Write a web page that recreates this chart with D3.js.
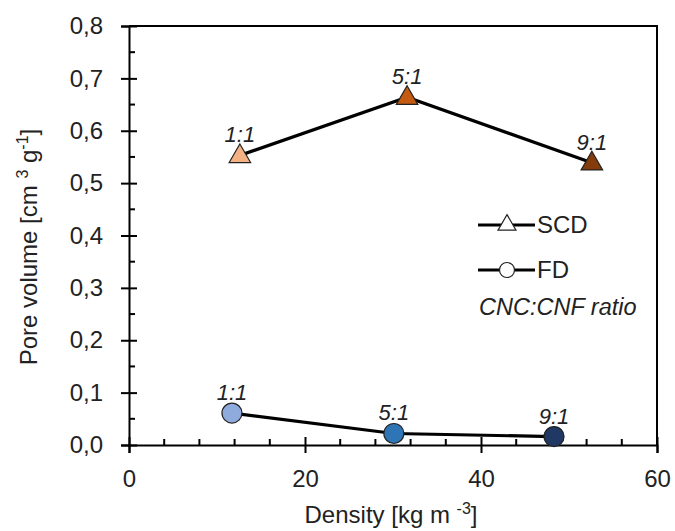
<!DOCTYPE html>
<html>
<head>
<meta charset="utf-8">
<script src="https://cdn.jsdelivr.net/npm/d3@7"></script>
<style>
  body { margin: 0; background: #fff; }
  svg text { font-family: "Liberation Sans", Arial, sans-serif; fill: #222; }
</style>
</head>
<body>
<div id="chart"></div>
<script>
// Data
const ratios = ["1:1", "5:1", "9:1"];
const scdDensity = [12.6, 31.6, 52.6];
const scdPore = [0.553, 0.664, 0.539];
const fdDensity = [11.7, 30.1, 48.3];
const fdPore = [0.061, 0.022, 0.016];
const scdColors = ["#f4b183", "#c55a11", "#843c0c"];
const fdColors = ["#8faadc", "#2e75b6", "#203864"];
const xTicks = [0, 20, 40, 60];
const yTicks = [0, 0.1, 0.2, 0.3, 0.4, 0.5, 0.6, 0.7, 0.8];

drawChart();

function drawChart() {
    const W = 675, H = 531;
    const margin = { top: 26, right: 18, bottom: 86, left: 129 };
    const width = W - margin.left - margin.right;
    const height = H - margin.top - margin.bottom;

    const svg = d3.select("#chart").append("svg")
        .attr("width", W).attr("height", H);
    const g = svg.append("g")
        .attr("transform", `translate(${margin.left},${margin.top})`);

    const x = d3.scaleLinear().domain([0, 60]).range([0, width]);
    const y = d3.scaleLinear().domain([0, 0.8]).range([height, 0]);

    // frame (top and right)
    g.append("path")
        .attr("d", `M0,0H${width}V${height}`)
        .attr("fill", "none").attr("stroke", "#000").attr("stroke-width", 2);

    // minor ticks, pointing inside
    const xMinor = d3.range(0, 61, 4).filter(v => v % 20 !== 0);
    g.selectAll(".xminor").data(xMinor).enter().append("line")
        .attr("x1", d => x(d)).attr("x2", d => x(d))
        .attr("y1", height).attr("y2", height - 6)
        .attr("stroke", "#000").attr("stroke-width", 2);
    const yMinor = d3.range(0.05, 0.8, 0.1);
    g.selectAll(".yminor").data(yMinor).enter().append("line")
        .attr("x1", 0).attr("x2", 6)
        .attr("y1", d => y(d)).attr("y2", d => y(d))
        .attr("stroke", "#000").attr("stroke-width", 2);

    // x axis
    const xAxis = g.append("g")
        .attr("transform", `translate(0,${height})`)
        .call(d3.axisBottom(x).tickValues(xTicks).tickSize(8).tickPadding(17));
    xAxis.select(".domain").attr("stroke-width", 2);
    xAxis.selectAll(".tick line").attr("y1", -8).attr("stroke-width", 2);
    xAxis.selectAll("text").style("font-size", "24px").attr("fill", "#222");

    // y axis
    const yAxis = g.append("g")
        .call(d3.axisLeft(y).tickValues(yTicks).tickSize(8).tickPadding(18)
            .tickFormat(d => d3.format(".1f")(d).replace(".", ",")));
    yAxis.select(".domain").attr("stroke-width", 2);
    yAxis.selectAll(".tick line").attr("x1", 8).attr("stroke-width", 2);
    yAxis.selectAll("text").style("font-size", "24px").attr("fill", "#222");

    // axis titles
    const xt = g.append("text")
        .attr("x", width / 2 - 2).attr("y", height + 78)
        .attr("text-anchor", "middle").style("font-size", "24px");
    xt.append("tspan").text("Density [kg m ");
    xt.append("tspan").attr("dy", -9).style("font-size", "16px").text("-3");
    xt.append("tspan").attr("dy", 9).text("]");

    const yt = g.append("text")
        .attr("transform", `translate(${-92},${247 - margin.top}) rotate(-90)`)
        .attr("text-anchor", "middle").style("font-size", "24px");
    yt.append("tspan").text("Pore volume [cm ");
    yt.append("tspan").attr("dy", -9).style("font-size", "16px").text("3");
    yt.append("tspan").attr("dy", 9).text(" g");
    yt.append("tspan").attr("dy", -9).style("font-size", "16px").text("-1");
    yt.append("tspan").attr("dy", 9).text("]");

    const scd = ratios.map((r, i) => ({ r: r, x: scdDensity[i], y: scdPore[i], c: scdColors[i] }));
    const fd = ratios.map((r, i) => ({ r: r, x: fdDensity[i], y: fdPore[i], c: fdColors[i] }));

    const line = d3.line().x(d => x(d.x)).y(d => y(d.y));
    [scd, fd].forEach(s => {
        g.append("path").datum(s)
            .attr("fill", "none").attr("stroke", "#000").attr("stroke-width", 3.2)
            .attr("d", line);
    });

    const tri = d3.symbol().type(d3.symbolTriangle).size(200);
    g.selectAll(".tri").data(scd).enter().append("path")
        .attr("d", tri)
        .attr("transform", d => `translate(${x(d.x)},${y(d.y) + 1})`)
        .attr("fill", d => d.c).attr("stroke", "#222").attr("stroke-width", 1.2);

    g.selectAll(".dot").data(fd).enter().append("circle")
        .attr("cx", d => x(d.x)).attr("cy", d => y(d.y)).attr("r", 10)
        .attr("fill", d => d.c).attr("stroke", "#222").attr("stroke-width", 1.2);

    // ratio labels
    g.selectAll(".lab").data(scd.concat(fd)).enter().append("text")
        .attr("x", d => x(d.x)).attr("y", d => y(d.y) - 13)
        .attr("text-anchor", "middle")
        .style("font-size", "22px").style("font-style", "italic")
        .text(d => d.r);

    // legend
    const leg = g.append("g").attr("transform", `translate(${478 - margin.left},0)`);
    const items = [
        { name: "SCD", yy: 225 - margin.top, shape: "tri" },
        { name: "FD", yy: 270 - margin.top, shape: "circle" }
    ];
    items.forEach(it => {
        leg.append("line").attr("x1", 0).attr("x2", 57)
            .attr("y1", it.yy).attr("y2", it.yy)
            .attr("stroke", "#000").attr("stroke-width", 3.2);
        if (it.shape === "tri") {
            leg.append("path")
                .attr("d", d3.symbol().type(d3.symbolTriangle).size(140))
                .attr("transform", `translate(29,${it.yy})`)
                .attr("fill", "#fff").attr("stroke", "#222").attr("stroke-width", 1.2);
        } else {
            leg.append("circle").attr("cx", 29).attr("cy", it.yy).attr("r", 7.5)
                .attr("fill", "#fff").attr("stroke", "#222").attr("stroke-width", 1.2);
        }
        leg.append("text").attr("x", 59).attr("y", it.yy + 8)
            .style("font-size", "24px").text(it.name);
    });
    leg.append("text").attr("x", 1).attr("y", 315 - margin.top)
        .style("font-size", "23.5px").style("font-style", "italic")
        .text("CNC:CNF ratio");
}
</script>
</body>
</html>
